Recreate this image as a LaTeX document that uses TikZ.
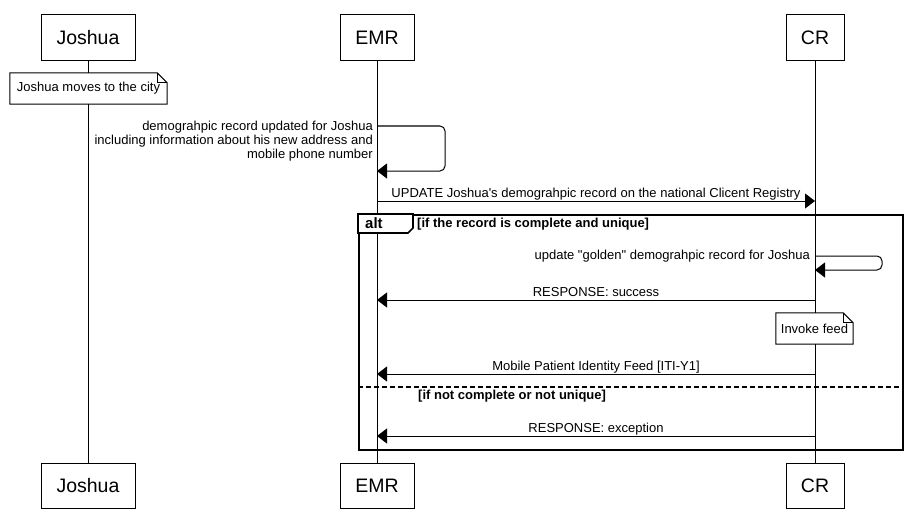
\documentclass[tikz,border=0pt]{standalone}
\usepackage{fontspec}
\setmainfont{Liberation Sans}
\newfontfamily\umlfont{Liberation Sans}
\usetikzlibrary{arrows.meta}
\begin{document}
\begin{tikzpicture}[x=1pt,y=-1pt,
  participant/.style={draw=black, line width=1pt, fill=white, inner sep=0pt,
    font=\umlfont\fontsize{19.5pt}{23pt}\selectfont},
  lifeline/.style={draw=black, line width=1pt},
  msg/.style={draw=black, line width=1pt, -{Triangle[length=10pt,width=15pt]}},
  msglabel/.style={inner sep=0pt, font=\umlfont\fontsize{13pt}{14pt}\selectfont},
  notebox/.style={fill=white, inner sep=0pt, font=\umlfont\fontsize{13pt}{14pt}\selectfont},
  noteline/.style={draw=black, line width=1pt, line join=miter},
  framebox/.style={draw=black, line width=1.6pt},
  condlabel/.style={inner sep=0pt, font=\umlfont\fontsize{13pt}{14pt}\selectfont\bfseries},
  altlabel/.style={inner sep=0pt, font=\umlfont\fontsize{15pt}{17pt}\selectfont\bfseries}
]
\useasboundingbox (0,0) rectangle (912,532);

% participants
\node[participant, minimum width=94pt, minimum height=46pt] (jt) at (88,38) {Joshua};
\node[participant, minimum width=74pt, minimum height=46pt] (et) at (377,38) {EMR};
\node[participant, minimum width=58pt, minimum height=46pt] (ct) at (815,38) {CR};
\node[participant, minimum width=94pt, minimum height=45pt] (jb) at (88,485.5) {Joshua};
\node[participant, minimum width=74pt, minimum height=45pt] (eb) at (377,485.5) {EMR};
\node[participant, minimum width=58pt, minimum height=45pt] (cb) at (815,485.5) {CR};

% lifelines
\draw[lifeline] (jt.south) -- (jb.north);
\draw[lifeline] (et.south) -- (eb.north);
\draw[lifeline] (ct.south) -- (cb.north);

% note on Joshua
\node[notebox, minimum width=157pt, minimum height=31pt] (n1) at (88.5,88.5) {Joshua moves to the city};
\draw[noteline] (n1.north west) -- ([xshift=-10pt]n1.north east) -- ([yshift=-10pt]n1.north east)
  -- (n1.south east) -- (n1.south west) -- cycle;
\draw[noteline] ([xshift=-10pt]n1.north east) -- ([xshift=-10pt,yshift=-10pt]n1.north east) -- ([yshift=-10pt]n1.north east);

% self message on EMR
\coordinate (s1a) at (377,126);
\coordinate (s1b) at (377,171);
\draw[msg, rounded corners=5pt] (s1a) -- ++(68,0) -- ++(0,45) -- (s1b);
\node[msglabel, anchor=north east, align=right] (s1l) at (373,120.5)
  {demograhpic record updated for Joshua\\including information about his new address and\\mobile phone number};

% UPDATE
\coordinate (u1) at (377,201);
\coordinate (u2) at (815,201);
\draw[msg] (u1) -- (u2) node[msglabel, midway, anchor=base, yshift=4pt] {UPDATE Joshua\char39 s demograhpic record on the national Clicent Registry};

% alt frame
\node[framebox, anchor=north west, minimum width=544pt, minimum height=235pt, inner sep=0pt] (alt) at (358,214) {};
\draw[framebox, fill=white] (358,214) -- (358,233) -- (408,233) -- (413,228) -- (413,214) -- cycle;
\node[altlabel, anchor=base west] (altl) at (365,228.5) {alt};
\node[condlabel, anchor=base west] (c1) at (417,227) {[if the record is complete and unique]};

% self message on CR
\coordinate (s2a) at (815,256);
\coordinate (s2b) at (815,270);
\draw[msg, rounded corners=5pt] (s2a) -- ++(67,0) -- ++(0,14) -- (s2b);
\node[msglabel, anchor=base east] (s2l) at (810,259.5) {update \char34 golden\char34\ demograhpic record for Joshua};

% RESPONSE success
\coordinate (r1a) at (815,300);
\coordinate (r1b) at (377,300);
\draw[msg] (r1a) -- (r1b) node[msglabel, midway, anchor=base, yshift=4pt] {RESPONSE: success};

% note Invoke feed
\node[notebox, minimum width=77pt, minimum height=31pt] (n2) at (814.5,328.5) {Invoke feed};
\draw[noteline] (n2.north west) -- ([xshift=-10pt]n2.north east) -- ([yshift=-10pt]n2.north east)
  -- (n2.south east) -- (n2.south west) -- cycle;
\draw[noteline] ([xshift=-10pt]n2.north east) -- ([xshift=-10pt,yshift=-10pt]n2.north east) -- ([yshift=-10pt]n2.north east);

% Mobile feed
\coordinate (m1a) at (815,374);
\coordinate (m1b) at (377,374);
\draw[msg] (m1a) -- (m1b) node[msglabel, midway, anchor=base, yshift=4pt] {Mobile Patient Identity Feed [ITI-Y1]};

% else separator
\coordinate (d1) at (358,387);
\coordinate (d2) at (902,387);
\draw[draw=black, line width=1.5pt, dash pattern=on 5pt off 3pt] (d1) -- (d2);
\node[condlabel, anchor=base west] (c2) at (418,399.5) {[if not complete or not unique]};

% RESPONSE exception
\coordinate (r2a) at (815,436);
\coordinate (r2b) at (377,436);
\draw[msg] (r2a) -- (r2b) node[msglabel, midway, anchor=base, yshift=4pt] {RESPONSE: exception};
\end{tikzpicture}
\end{document}
